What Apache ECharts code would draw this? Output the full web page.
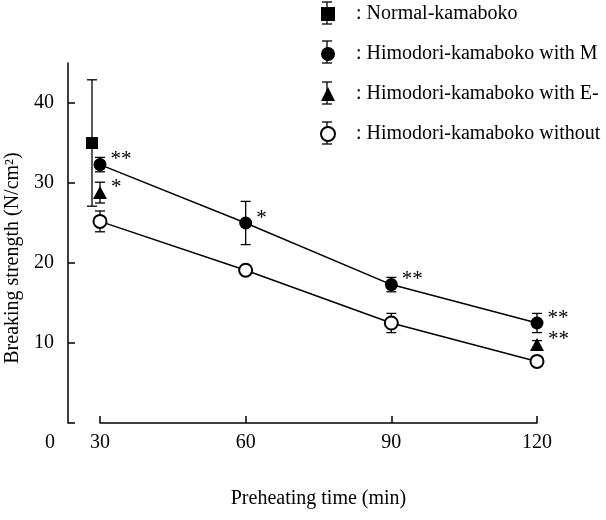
<!DOCTYPE html>
<html>
<head>
<meta charset="utf-8">
<script src="https://cdn.jsdelivr.net/npm/echarts@6/dist/echarts.min.js"></script>
<style>html,body{margin:0;background:#fff}#main{width:606px;height:520px}</style>
</head>
<body>
<div id="main"></div>
<script>
const seriesNames = ['Normal-kamaboko', 'Himodori-kamaboko with M', 'Himodori-kamaboko with E-', 'Himodori-kamaboko without'];
const timeTicks = [30, 60, 90, 120];
const yTicks = [0, 10, 20, 30, 40];
const yLabels = [10, 20, 30, 40];

// normal kamaboko, only measured at 30 min
const normalTime = [30];
const normalMean = [35.0];
const normalSd = [7.9];

const mTime = [30, 60, 90, 120];
const mMean = [32.3, 25.0, 17.3, 12.5];
const mSd = [0.9, 2.7, 0.9, 1.2];
const mSig = ['**', '*', '**', '**'];

const eTime = [30, 120];
const eMean = [28.8, 9.8];
const eSd = [1.3, 0.5];
const eSig = ['*', '**'];

const woTime = [30, 60, 90, 120];
const woMean = [25.2, 19.1, 12.5, 7.7];
const woSd = [1.3, 0.3, 1.2, 0.4];

const font = 'Liberation Serif';
const fs = 20;
const chart = echarts.init(document.getElementById('main'));

// vertical error bar with caps, dx shifts it sideways in pixels
function errorSeries(times, means, sds, dx) {
    return {
        type: 'custom',
        silent: true,
        z: 1,
        data: times.map((t, i) => [t, means[i] - sds[i], means[i] + sds[i]]),
        renderItem: function(params, api) {
            const lo = api.coord([api.value(0), api.value(1)]);
            const hi = api.coord([api.value(0), api.value(2)]);
            const x = lo[0] + dx;
            const cap = 5;
            const style = { stroke: '#000', lineWidth: 1.3 };
            return {
                type: 'group',
                children: [
                    { type: 'line', shape: { x1: x, y1: lo[1], x2: x, y2: hi[1] }, style: style },
                    { type: 'line', shape: { x1: x - cap, y1: lo[1], x2: x + cap, y2: lo[1] }, style: style },
                    { type: 'line', shape: { x1: x - cap, y1: hi[1], x2: x + cap, y2: hi[1] }, style: style }
                ]
            };
        }
    };
}

function withSig(times, means, sig) {
    return times.map((t, i) => ({
        value: [t, means[i]],
        label: { show: !!sig[i], formatter: sig[i] || '' }
    }));
}

const sigLabel = {
    position: 'right',
    distance: 5,
    offset: [-1, -5],
    fontFamily: font,
    fontSize: 21,
    color: '#000'
};

// small error-bar glyphs beside the legend icons
const legendBars = [13, 52, 93, 133].map(y => ({
    type: 'group',
    children: [
        { type: 'line', shape: { x1: 327, y1: y - 11, x2: 327, y2: y + 11 }, style: { stroke: '#000', lineWidth: 1.3 } },
        { type: 'line', shape: { x1: 322, y1: y - 11, x2: 332, y2: y - 11 }, style: { stroke: '#000', lineWidth: 1.3 } },
        { type: 'line', shape: { x1: 322, y1: y + 11, x2: 332, y2: y + 11 }, style: { stroke: '#000', lineWidth: 1.3 } }
    ],
    z: 0
}));

const option = {
    animation: false,
    backgroundColor: '#fff',
    grid: { left: 100, right: 69, top: 63, bottom: 97, outerBoundsMode: 'none' },
    legend: {
        orient: 'vertical',
        left: 320,
        top: 4,
        padding: 0,
        itemWidth: 14,
        itemHeight: 14,
        itemGap: 20,
        selectedMode: false,
        formatter: n => ': ' + n,
        textStyle: { fontFamily: font, fontSize: fs, color: '#000', padding: [0, 0, 0, 16] },
        data: [
            { name: seriesNames[0], icon: 'rect' },
            { name: seriesNames[1], icon: 'circle' },
            { name: seriesNames[2], icon: 'triangle' },
            { name: seriesNames[3], icon: 'emptyCircle' }
        ]
    },
    graphic: [
        { type: 'text', left: 45, top: 433, style: { text: '0', font: fs + 'px "Liberation Serif"', fill: '#000' } }
    ].concat(legendBars),
    xAxis: {
        type: 'value',
        min: 30,
        max: 120,
        interval: 30,
        name: 'Preheating time (min)',
        nameLocation: 'middle',
        nameGap: 66,
        nameTextStyle: { fontFamily: font, fontSize: fs, color: '#000' },
        axisLine: { lineStyle: { color: '#000', width: 1.5 } },
        axisTick: { inside: true, length: 7, lineStyle: { color: '#000', width: 1.5 } },
        axisLabel: { fontFamily: font, fontSize: fs, color: '#000', margin: 10 },
        splitLine: { show: false }
    },
    yAxis: {
        type: 'value',
        min: 0,
        max: 45,
        offset: 32,
        name: 'Breaking strength (N/cm²)',
        nameLocation: 'middle',
        nameGap: 45,
        nameTextStyle: { fontFamily: font, fontSize: fs, color: '#000', padding: [0, 30, 0, 0] },
        axisLine: { show: true, lineStyle: { color: '#000', width: 1.5 } },
        axisTick: { inside: true, length: 7, customValues: yTicks, lineStyle: { color: '#000', width: 1.5 } },
        axisLabel: { fontFamily: font, fontSize: fs, color: '#000', margin: 14, customValues: yLabels },
        splitLine: { show: false }
    },
    series: [
        errorSeries(normalTime, normalMean, normalSd, -8),
        errorSeries(mTime, mMean, mSd, 0),
        errorSeries(eTime, eMean, eSd, 0),
        errorSeries(woTime, woMean, woSd, 0),
        {
            name: seriesNames[0],
            type: 'scatter',
            z: 3,
            symbol: 'rect',
            symbolSize: 12,
            symbolOffset: [-8, 0],
            itemStyle: { color: '#000', opacity: 1 },
            data: normalTime.map((t, i) => [t, normalMean[i]])
        },
        {
            name: seriesNames[1],
            type: 'line',
            z: 3,
            symbol: 'circle',
            symbolSize: 13,
            showAllSymbol: true,
            itemStyle: { color: '#000' },
            lineStyle: { color: '#000', width: 1.5 },
            label: sigLabel,
            data: withSig(mTime, mMean, mSig)
        },
        {
            name: seriesNames[2],
            type: 'scatter',
            z: 3,
            symbol: 'triangle',
            symbolSize: [14, 13],
            itemStyle: { color: '#000', opacity: 1 },
            label: sigLabel,
            data: withSig(eTime, eMean, eSig)
        },
        {
            name: seriesNames[3],
            type: 'line',
            z: 3,
            symbol: 'emptyCircle',
            symbolSize: 13,
            showAllSymbol: true,
            itemStyle: { color: '#000', borderWidth: 1.5 },
            lineStyle: { color: '#000', width: 1.5 },
            data: woTime.map((t, i) => [t, woMean[i]])
        }
    ]
};

chart.setOption(option);
</script>
</body>
</html>
